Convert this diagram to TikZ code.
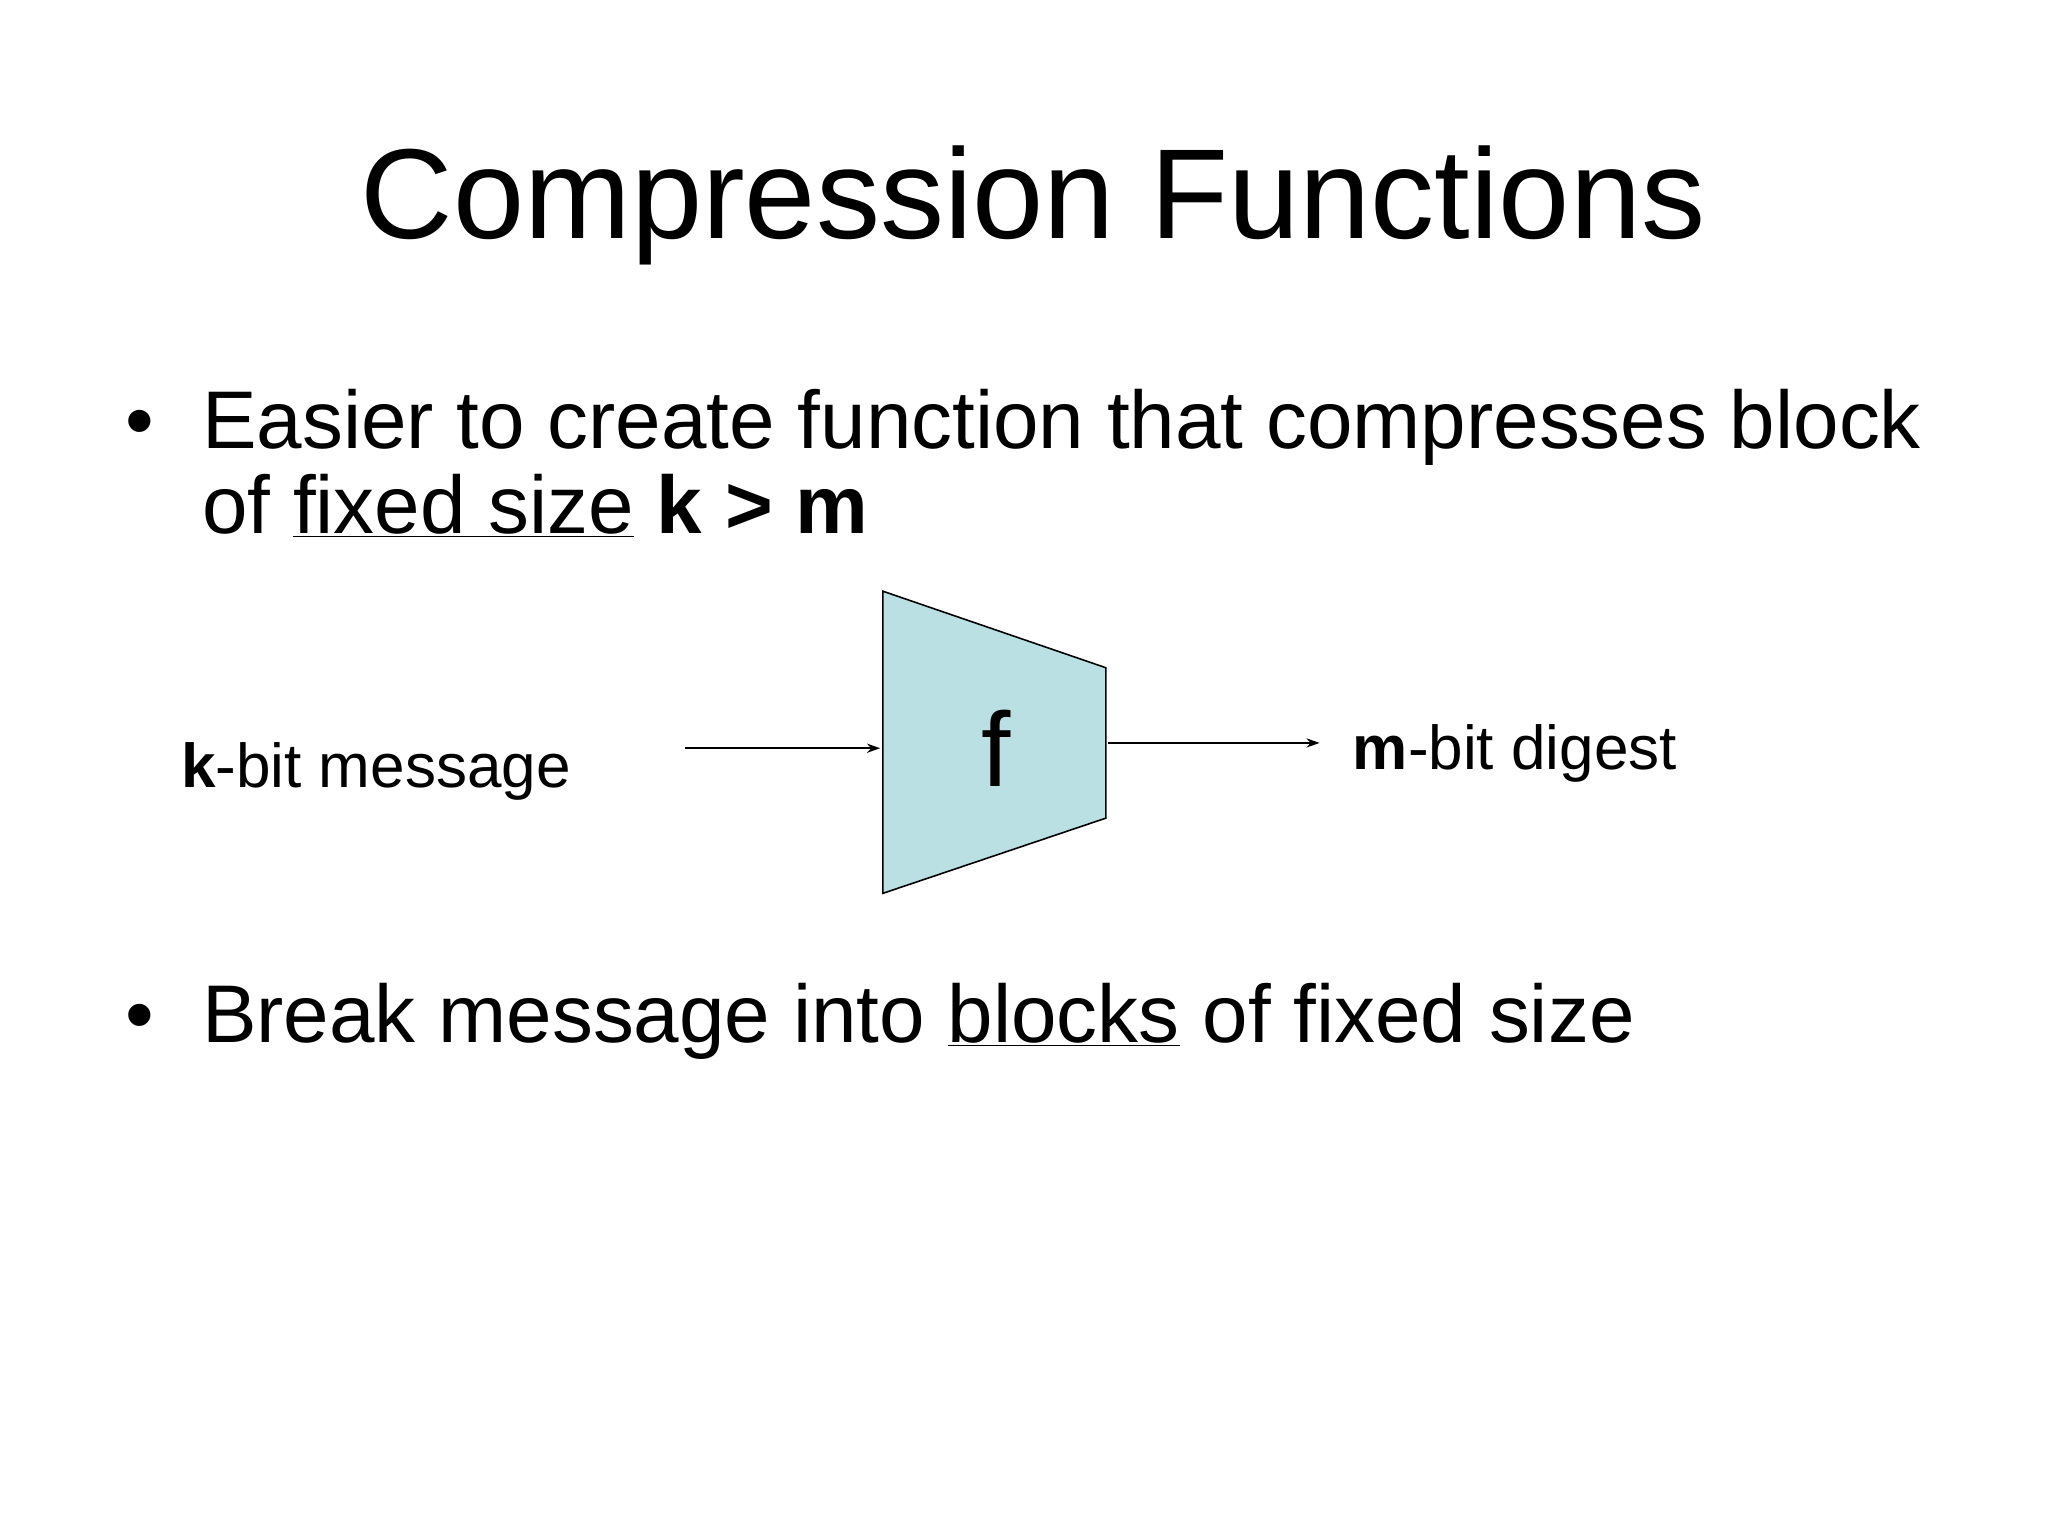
\documentclass[tikz,border=0pt]{standalone}
\usepackage{fontspec}
\setmainfont{Liberation Sans}
\usetikzlibrary{arrows.meta}
\begin{document}
\begin{tikzpicture}[x=1pt,y=-1pt,
  txt/.style={anchor=base west,inner sep=0pt,font=\fontsize{62}{74}\selectfont},
  lbl/.style={anchor=base west,inner sep=0pt,font=\fontsize{47}{56}\selectfont},
  conn/.style={-{Stealth[length=10pt,width=7pt]},line width=1.2pt}]
\useasboundingbox (0,0) rectangle (1552,1164);
\node[anchor=base,inner sep=0pt,font=\fontsize{97}{110}\selectfont] (title) at (783,181) {Compression Functions};
\node[txt] (b1) at (95,340) {\textbullet};
\node[txt] (l1) at (153,340) {Easier to create function that compresses block};
\node[txt] (l2) at (153,404) {of \underline{fixed size} \textbf{k > m}};
\fill[fill={rgb,255:red,186;green,224;blue,228},draw=black,line width=1.2pt] (669,448) -- (838,506) -- (838,620) -- (669,677) -- cycle;
\node[inner sep=0pt,font=\fontsize{80}{90}\selectfont] (f) at (755,567) {f};
\coordinate (fin) at (667,567);
\coordinate (fout) at (840,563);
\node[lbl] (kin) at (137,597) {\textbf{k}-bit message};
\node[lbl] (mout) at (1025,583) {\textbf{m}-bit digest};
\coordinate (kend) at (519,567);
\coordinate (mend) at (1000,563);
\draw[conn] (kend) -- (fin);
\draw[conn] (fout) -- (mend);
\node[txt] (b2) at (95,790) {\textbullet};
\node[txt] (l3) at (153,790) {Break message into \underline{blocks} of fixed size};
\end{tikzpicture}
\end{document}
